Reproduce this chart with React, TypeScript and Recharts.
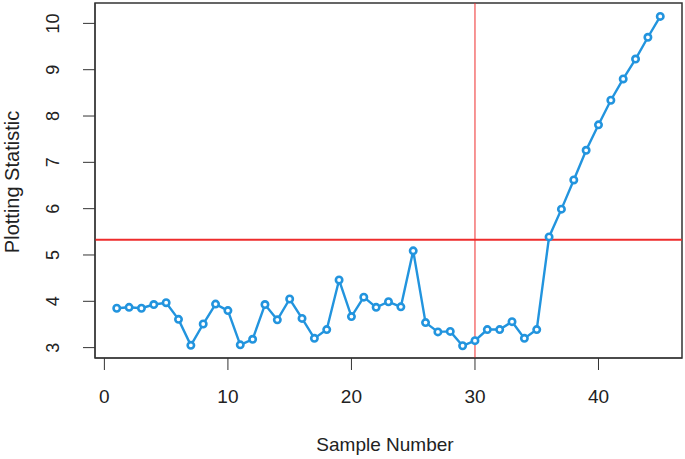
import {
  LineChart,
  Line,
  XAxis,
  YAxis,
  ReferenceLine,
  ReferenceArea,
  Label,
} from "recharts";

const sampleNumbers = [
  1, 2, 3, 4, 5, 6, 7, 8, 9, 10, 11, 12, 13, 14, 15, 16, 17, 18, 19, 20, 21,
  22, 23, 24, 25, 26, 27, 28, 29, 30, 31, 32, 33, 34, 35, 36, 37, 38, 39, 40,
  41, 42, 43, 44, 45,
];

const plottingStatistic = [
  3.85, 3.87, 3.85, 3.93, 3.97, 3.61, 3.05, 3.51, 3.94, 3.8, 3.06, 3.18, 3.93,
  3.6, 4.05, 3.63, 3.2, 3.39, 4.46, 3.67, 4.09, 3.87, 3.99, 3.88, 5.09, 3.54,
  3.34, 3.35, 3.04, 3.15, 3.39, 3.39, 3.56, 3.2, 3.39, 5.39, 5.99, 6.62, 7.26,
  7.81, 8.34, 8.8, 9.23, 9.7, 10.15,
];

const xTicks = [0, 10, 20, 30, 40];
const yTicks = [3, 4, 5, 6, 7, 8, 9, 10];

const controlLimit = 5.33;
const changePoint = 30;

const X_DOMAIN: [number, number] = [-0.76, 46.76];
const Y_DOMAIN: [number, number] = [2.776, 10.44];

const BLUE = "#2294de";
const RED = "#ee2c2c";
const INK = "#333";
const FONT = "'Liberation Sans', Arial, sans-serif";

const data = sampleNumbers.map((n, i) => ({ n, v: plottingStatistic[i] }));

function XTick(props: any) {
  return (
    <text
      x={props.x}
      y={403}
      textAnchor="middle"
      fontSize={19}
      fontFamily={FONT}
      fill="#222"
    >
      {props.payload.value}
    </text>
  );
}

function YTick(props: any) {
  const x = 59;
  return (
    <text
      x={x}
      y={props.y}
      transform={`rotate(-90, ${x}, ${props.y})`}
      textAnchor="middle"
      fontSize={18}
      fontFamily={FONT}
      fill="#222"
    >
      {props.payload.value}
    </text>
  );
}

export default function App() {
  return (
    <div style={{ position: "absolute", left: 0, top: 0, background: "#fff" }}>
      <LineChart
        width={685}
        height={459}
        data={data}
        margin={{ top: 3, right: 3, bottom: 0, left: 0 }}
      >
        <XAxis
          dataKey="n"
          type="number"
          domain={X_DOMAIN}
          ticks={xTicks}
          allowDataOverflow
          height={101}
          tickSize={12}
          tickLine={{ stroke: INK }}
          axisLine={{ stroke: INK }}
          tick={<XTick />}
        >
          <Label
            content={() => (
              <text
                x={385}
                y={451}
                textAnchor="middle"
                fontSize={19}
                fontFamily={FONT}
                fill="#222"
              >
                Sample Number
              </text>
            )}
          />
        </XAxis>
        <YAxis
          type="number"
          domain={Y_DOMAIN}
          ticks={yTicks}
          allowDataOverflow
          width={95}
          tickSize={12}
          tickLine={{ stroke: INK }}
          axisLine={{ stroke: INK }}
          tick={<YTick />}
        >
          <Label
            content={() => (
              <text
                x={19}
                y={182}
                transform="rotate(-90, 19, 182)"
                textAnchor="middle"
                fontSize={20}
                fontFamily={FONT}
                fill="#222"
              >
                Plotting Statistic
              </text>
            )}
          />
        </YAxis>
        <ReferenceArea
          x1={X_DOMAIN[0]}
          x2={X_DOMAIN[1]}
          y1={Y_DOMAIN[0]}
          y2={Y_DOMAIN[1]}
          stroke={INK}
          strokeWidth={1.5}
          fill="none"
          fillOpacity={0}
          ifOverflow="visible"
        />
        <ReferenceLine y={controlLimit} stroke={RED} strokeWidth={2} />
        <ReferenceLine x={changePoint} stroke={RED} strokeWidth={1} />
        <Line
          dataKey="v"
          stroke={BLUE}
          strokeWidth={2.4}
          dot={{ r: 3.2, stroke: BLUE, strokeWidth: 2.6, fill: "#fff" }}
          activeDot={false}
          isAnimationActive={false}
        />
      </LineChart>
    </div>
  );
}
